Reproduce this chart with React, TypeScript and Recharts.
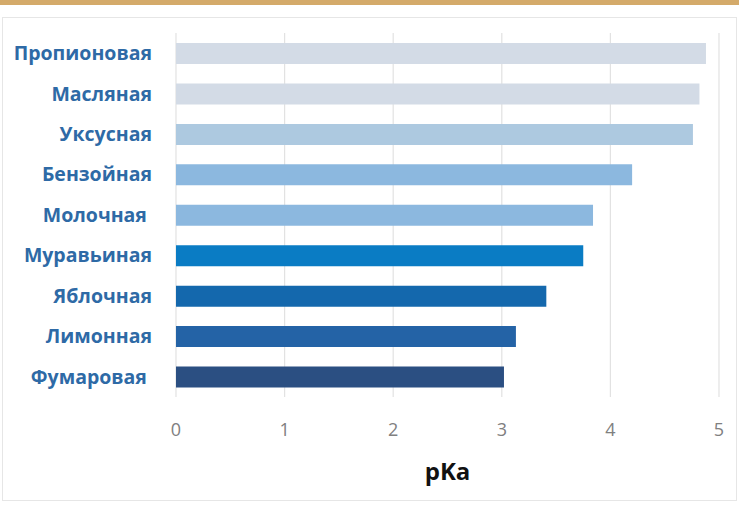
import React from 'react';
import { BarChart, Bar, XAxis, YAxis, CartesianGrid, Cell, Label } from 'recharts';

const acids = ['Пропионовая', 'Масляная', 'Уксусная', 'Бензойная', 'Молочная\u00a0', 'Муравьиная', 'Яблочная', 'Лимонная', 'Фумаровая\u00a0'];
const pKa = [4.88, 4.82, 4.76, 4.2, 3.84, 3.75, 3.41, 3.13, 3.02];
const barColors = ['#d3dbe6', '#d3dbe6', '#adc9e0', '#8cb8df', '#8cb8df', '#0a7cc4', '#1468ad', '#2463a6', '#2b4f82'];
const xTicks = [0, 1, 2, 3, 4, 5];

const data = acids.map((name, i) => ({ name, value: pKa[i] }));

export default function App() {
  return (
    <div style={{ position: 'absolute', left: 0, top: 0, width: 739, height: 506, background: '#fff', fontFamily: '"Open Sans", sans-serif' }}>
      <div style={{ position: 'absolute', left: 0, top: 0, width: 739, height: 5, background: '#d4aa6a' }} />
      <div style={{ position: 'absolute', left: 2, top: 17, width: 733, height: 482, border: '1px solid #e6e6e6' }} />
      <div style={{ position: 'absolute', left: 0, top: 0 }}>
        <BarChart
          width={739}
          height={506}
          layout="vertical"
          data={data}
          margin={{ top: 33, right: 20, bottom: 0, left: 0 }}
          barSize={21}
        >
          <CartesianGrid horizontal={false} stroke="#e2e2e2" strokeWidth={1.2} />
          <XAxis
            type="number"
            domain={[0, 5]}
            ticks={xTicks}
            axisLine={false}
            tickLine={false}
            tickMargin={20}
            height={109}
            tick={{ fontSize: 18, fill: '#808080', fontFamily: '"Open Sans", sans-serif' }}
          >
            <Label
              value="pKa"
              position="insideBottom"
              offset={26}
              style={{ fontSize: 24, fontWeight: 700, fill: '#111', fontFamily: '"Open Sans", sans-serif' }}
            />
          </XAxis>
          <YAxis
            type="category"
            dataKey="name"
            width={176}
            axisLine={false}
            tickLine={false}
            tickSize={0}
            tickMargin={24}
            interval={0}
            tick={{ fontSize: 19.5, fontWeight: 700, fill: '#2e6aa6', fontFamily: '"Open Sans", sans-serif' }}
          />
          <Bar dataKey="value" isAnimationActive={false}>
            {data.map((d, i) => (
              <Cell key={d.name} fill={barColors[i]} />
            ))}
          </Bar>
        </BarChart>
      </div>
    </div>
  );
}
